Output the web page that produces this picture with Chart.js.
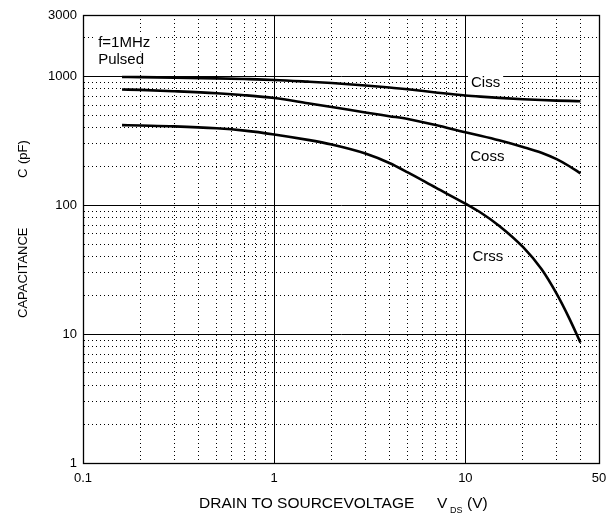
<!DOCTYPE html>
<html>
<head>
<meta charset="utf-8">
<script src="https://cdn.jsdelivr.net/npm/chart.js@4.4.1/dist/chart.umd.min.js"></script>
<style>
  html, body { margin: 0; padding: 0; background: #fff; }
  #wrap { width: 608px; height: 521px; }
</style>
</head>
<body>
<div id="wrap"><canvas id="cap"></canvas></div>
<script>
// Drain-source voltage samples (V)
const vds = [0.16, 0.2, 0.3, 0.5, 0.7, 1, 1.5, 2, 3, 4, 5, 7, 10, 12, 15, 20, 25, 30, 35, 40];

// Capacitance curves (pF)
const ciss = [990, 988, 980, 966, 955, 940, 912, 890, 852, 820, 795, 752, 712, 697, 682, 666, 656, 650, 646, 643];
const coss = [793, 787, 768, 740, 715, 680, 620, 580, 525, 492, 468, 420, 369, 347, 320, 284, 256, 228, 201, 177];
const crss = [419, 416, 410, 396, 380, 355, 322, 296, 252, 213, 180, 137, 103, 88, 69.5, 47.5, 32, 20.6, 13.2, 8.6];

// Grid ticks and their labels
const xTicks = [0.1, 0.2, 0.3, 0.4, 0.5, 0.6, 0.7, 0.8, 0.9, 1, 2, 3, 4, 5, 6, 7, 8, 9, 10, 20, 30, 40, 50];
const xLabels = [0.1, 1, 10, 50];
const yTicks = [1, 2, 3, 4, 5, 6, 7, 8, 9, 10, 20, 30, 40, 50, 60, 70, 80, 90,
                100, 200, 300, 400, 500, 600, 700, 800, 900, 1000, 2000, 3000];
const yLabels = [1, 10, 100, 1000, 3000];
const xMajor = [0.1, 1, 10, 50];
const yMajor = [1, 10, 100, 1000, 3000];

// Curve names and where they are written (V, pF)
const curveNames = ['Ciss', 'Coss', 'Crss'];
const nameAt = [[10.7, 899], [10.6, 236], [10.9, 39.5]];
const noteLines = ['f=1MHz', 'Pulsed'];
const noteAt = [[0.12, 1835], [0.12, 1355]];

const FONT = '"Liberation Sans", Arial, Helvetica, sans-serif';

function pairs(xs, ys) { return xs.map((x, i) => ({ x: x, y: ys[i] })); }

function curve(label, ys) {
  return {
    label: label,
    data: pairs(vds, ys),
    borderColor: '#000',
    borderWidth: 2.6,
    pointRadius: 0,
    fill: false,
    cubicInterpolationMode: 'monotone'
  };
}

function isMajor(list, v) { return list.some(m => Math.abs(m - v) / m < 1e-6); }

const annotate = {
  id: 'annotate',
  afterDatasetsDraw(chart) {
    const ctx = chart.ctx;
    const xs = chart.scales.x, ys = chart.scales.y;
    ctx.save();
    ctx.font = '15px ' + FONT;
    ctx.textBaseline = 'middle';
    ctx.textAlign = 'left';
    const boxed = (text, px, py) => {
      const w = ctx.measureText(text).width;
      ctx.fillStyle = '#fff';
      ctx.fillRect(px - 3, py - 8, w + 6, 16);
      ctx.fillStyle = '#000';
      ctx.fillText(text, px, py);
    };
    curveNames.forEach((t, i) => {
      boxed(t, xs.getPixelForValue(nameAt[i][0]), ys.getPixelForValue(nameAt[i][1]));
    });
    noteLines.forEach((t, i) => {
      boxed(t, xs.getPixelForValue(noteAt[i][0]), ys.getPixelForValue(noteAt[i][1]));
    });

    // frame around the plot
    const a = chart.chartArea;
    ctx.strokeStyle = '#000';
    ctx.lineWidth = 1.3;
    ctx.strokeRect(Math.round(a.left) + 0.5, Math.round(a.top) + 0.5,
                   Math.round(a.right - a.left), Math.round(a.bottom - a.top));

    // x axis title with subscript
    ctx.fillStyle = '#000';
    ctx.textBaseline = 'alphabetic';
    ctx.font = '15.5px ' + FONT;
    const y0 = 508;
    ctx.fillText('DRAIN TO SOURCEVOLTAGE', 199, y0);
    ctx.fillText('V', 437, y0);
    ctx.font = '9px ' + FONT;
    ctx.fillText('DS', 450, y0 + 5);
    ctx.font = '15.5px ' + FONT;
    ctx.fillText('(V)', 467, y0);

    // y axis title
    ctx.translate(27, 0);
    ctx.rotate(-Math.PI / 2);
    ctx.font = '13px ' + FONT;
    ctx.textAlign = 'left';
    ctx.fillText('CAPACITANCE', -318, 0);
    ctx.fillText('C', -178, 0);
    ctx.fillText('(pF)', -164, 0);
    ctx.restore();
  }
};

const tickFont = { family: FONT, size: 13 };

new Chart(document.getElementById('cap'), {
  type: 'line',
  data: {
    datasets: [curve('Ciss', ciss), curve('Coss', coss), curve('Crss', crss)]
  },
  options: {
    responsive: true,
    maintainAspectRatio: false,
    animation: false,
    layout: { padding: { top: 15, right: 9, left: 0, bottom: 0 } },
    plugins: { legend: { display: false }, tooltip: { enabled: false } },
    scales: {
      x: {
        type: 'logarithmic',
        min: 0.1,
        max: 50,
        afterBuildTicks(scale) { scale.ticks = xTicks.map(v => ({ value: v })); },
        afterFit(scale) {
          scale.height = 58;
          scale.paddingLeft = 0;
          scale.paddingRight = 0;
        },
        ticks: {
          autoSkip: false,
          maxRotation: 0,
          padding: 8,
          color: '#000',
          font: tickFont,
          callback(v) { return isMajor(xLabels, v) ? String(v) : ''; }
        },
        grid: {
          drawTicks: false,
          color: '#000',
          lineWidth: 1
        },
        border: {
          display: true,
          color: '#000',
          width: 1,
          dash: ctx => (ctx.tick && isMajor(xMajor, ctx.tick.value)) ? [] : [1, 3]
        }
      },
      y: {
        type: 'logarithmic',
        min: 1,
        max: 3000,
        afterBuildTicks(scale) { scale.ticks = yTicks.map(v => ({ value: v })); },
        afterFit(scale) {
          scale.width = 83;
          scale.paddingTop = 0;
          scale.paddingBottom = 0;
        },
        ticks: {
          autoSkip: false,
          padding: 6,
          color: '#000',
          font: tickFont,
          callback(v) { return isMajor(yLabels, v) ? String(v) : ''; }
        },
        grid: {
          drawTicks: false,
          color: '#000',
          lineWidth: 1
        },
        border: {
          display: true,
          color: '#000',
          width: 1,
          dash: ctx => (ctx.tick && isMajor(yMajor, ctx.tick.value)) ? [] : [1, 3]
        }
      }
    }
  },
  plugins: [annotate]
});
</script>
</body>
</html>
